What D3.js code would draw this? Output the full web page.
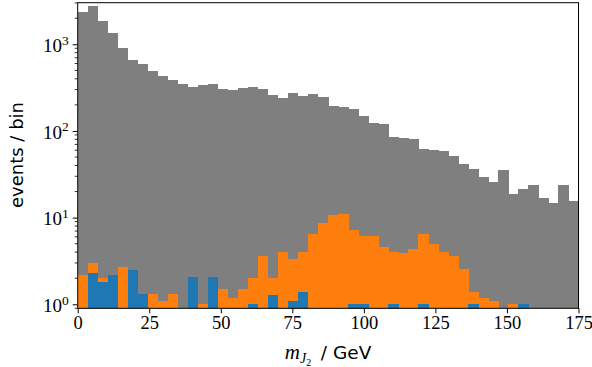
<!DOCTYPE html>
<html>
<head>
<meta charset="utf-8">
<script src="https://cdn.jsdelivr.net/npm/d3@7"></script>
<style>
  html, body { margin: 0; padding: 0; background: #fff; }
  svg { display: block; }
</style>
</head>
<body>
<svg id="chart" width="592" height="367"></svg>
<script>
// ---------- data ----------
const binLower = [0,3.5,7,10.5,14,17.5,21,24.5,28,31.5,35,38.5,42,45.5,49,52.5,56,59.5,63,66.5,
  70,73.5,77,80.5,84,87.5,91,94.5,98,101.5,105,108.5,112,115.5,119,122.5,126,129.5,133,136.5,
  140,143.5,147,150.5,154,157.5,161,164.5,168,171.5];
const binWidth = 3.5;
const grayCounts = [2370,2760,1866,1336,897,651,586,487,433,386,347,318,341,347,307,296,310,318,304,262,
  239,276,253,264,248,194,189,179,147,124,119,86,82,81,62,60,58,51,42,36,
  29.6,26,35,18.9,21.5,24,16.7,14.9,24,15.5];
const orangeCounts = [2.18,3.02,2.03,0,2.69,0,0,1.30,1.09,1.30,0,0,1.0,0,1.49,1.19,1.49,2.0,3.64,2.0,
  4.04,3.30,4.04,6.5,8.7,10.6,11.1,7.2,6.1,6.1,4.6,4.0,3.9,4.4,6.5,4.96,4.04,3.64,2.57,1.39,
  1.19,1.09,0,1.0,0,0,0,0,0,0];
const blueCounts = [0,2.28,1.79,2.18,0,2.49,1.30,0,0,0,0,2.08,0,2.08,0,0,0,1.0,0,1.29,
  0,1.09,1.39,0,0,0,0,1.0,1.0,0,0,1.0,0,0,1.0,0,0,0,0,1.0,
  0,0,0,0,1.0,0,0,0,0,0];
const xTicks = [0,25,50,75,100,125,150,175];
const yTicks = [1,10,100,1000];
const yTickExp = ["0","1","2","3"];

// ---------- layout ----------
const svg = d3.select("#chart");
const pL = 77.7, pR = 578.5, pT = 2.7, pB = 308.3;
const x = d3.scaleLinear().domain([0,175]).range([pL,pR]);
const y = d3.scaleLog().domain([0.8993,3020]).range([pB,pT]);

svg.append("defs").append("clipPath").attr("id","clip")
  .append("rect").attr("x",pL).attr("y",pT).attr("width",pR-pL).attr("height",pB-pT);

const plot = svg.append("g").attr("clip-path","url(#clip)");

function drawHist(counts, color) {
  const d = counts.map((c,i)=>({x0:binLower[i], x1:binLower[i]+binWidth, c})).filter(e=>e.c>0);
  plot.append("g").selectAll("rect").data(d).join("rect")
    .attr("x", e=>x(e.x0))
    .attr("width", e=>x(e.x1)-x(e.x0)+0.4)
    .attr("y", e=>y(e.c))
    .attr("height", e=>pB - y(e.c) + 2)
    .attr("fill", color)
    .attr("shape-rendering","crispEdges");
}
drawHist(grayCounts, "#7f7f7f");
drawHist(orangeCounts, "#ff7f0e");
drawHist(blueCounts, "#1f77b4");

// ---------- frame ----------
svg.append("rect").attr("x",pL).attr("y",pT).attr("width",pR-pL).attr("height",pB-pT)
  .attr("fill","none").attr("stroke","#000").attr("stroke-width",1);

const serif = "'Liberation Serif','DejaVu Serif',serif";
const sans = "'DejaVu Sans','Noto Sans',sans-serif";

// x axis
const xAxis = svg.append("g").attr("transform",`translate(0,${pB})`)
  .call(d3.axisBottom(x).tickValues(xTicks).tickSize(5).tickPadding(3).tickFormat(d3.format("d")));
xAxis.select(".domain").remove();
xAxis.selectAll("text").attr("font-family",serif).attr("font-size",18.5).attr("fill","#000");
xAxis.selectAll("line").attr("stroke","#000");

// y axis major
const yAxis = svg.append("g").attr("transform",`translate(${pL},0)`)
  .call(d3.axisLeft(y).tickValues(yTicks).tickSize(5).tickPadding(4).tickFormat(""));
yAxis.select(".domain").remove();
yAxis.selectAll("line").attr("stroke","#000");
const lbl = yAxis.selectAll(".tick text").attr("font-family",serif).attr("font-size",19).attr("fill","#000")
  .attr("dy","0.38em");
lbl.each(function(d,i){
  const t = d3.select(this);
  t.text("");
  t.append("tspan").text("10");
  t.append("tspan").attr("font-size",13.5).attr("dy","-0.55em").text(yTickExp[i]);
});

// y minor ticks
const minor = [];
[0.1,1,10,100,1000].forEach(dec=>{ for(let k=2;k<=9;k++){ const v=dec*k; if(v>=0.8993 && v<=3020) minor.push(v);} });
svg.append("g").selectAll("line").data(minor).join("line")
  .attr("x1",pL-3).attr("x2",pL).attr("y1",d=>y(d)).attr("y2",d=>y(d))
  .attr("stroke","#000").attr("stroke-width",0.8);

// axis labels
const xl = svg.append("text").attr("x",(pL+pR)/2).attr("y",359).attr("text-anchor","middle")
  .attr("fill","#000");
xl.append("tspan").attr("font-family",serif).attr("font-style","italic").attr("font-size",21).text("m");
xl.append("tspan").attr("font-family",serif).attr("font-style","italic").attr("font-size",14).attr("dy",4).text("J");
xl.append("tspan").attr("font-family",serif).attr("font-size",10).attr("dy",3).text("2");
xl.append("tspan").attr("font-family",sans).attr("font-size",18.5).attr("dy",-7).text("\u2009 / GeV");

svg.append("text").attr("transform","translate(23,155) rotate(-90)").attr("text-anchor","middle")
  .attr("font-family",sans).attr("font-size",18).attr("fill","#000").text("events / bin");
</script>
</body>
</html>
